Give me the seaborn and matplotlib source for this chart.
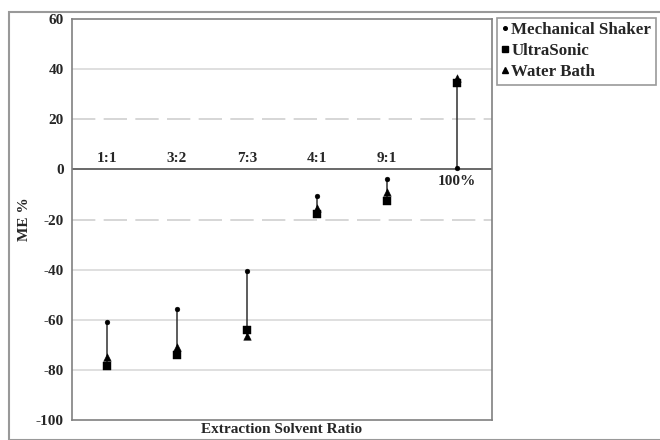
import numpy as np
import pandas as pd
import seaborn as sns
import matplotlib.pyplot as plt
from matplotlib.lines import Line2D
from matplotlib.patches import Rectangle

# data
ratios = ["1:1", "3:2", "7:3", "4:1", "9:1", "100%"]
mech_shaker = [-61.0, -55.6, -40.5, -10.7, -3.7, 0.6]
ultrasonic = [-78.5, -74.0, -64.1, -17.7, -12.7, 34.6]
water_bath = [-75.0, -71.0, -66.4, -15.4, -9.1, 36.3]
series_names = ["Mechanical Shaker", "UltraSonic", "Water Bath"]
y_ticks = [-100, -80, -60, -40, -20, 0, 20, 40, 60]

df = pd.DataFrame({
    "ratio": ratios * 3,
    "me": mech_shaker + ultrasonic + water_bath,
    "method": [s for s in series_names for _ in ratios],
})

sns.set_theme(style="white")
plt.rcParams["font.family"] = ["Liberation Serif", "DejaVu Serif"]
plt.rcParams["font.weight"] = "bold"

fig = plt.figure(figsize=(6.6, 4.4), dpi=100)
ax = fig.add_axes([72 / 660, 1 - 420 / 440, 420 / 660, 401 / 440])

# horizontal grid: solid light lines, dashed at +-20, dark zero line
for v in y_ticks[1:-1]:
    if v == 0:
        ax.axhline(v, color="#404040", lw=1.1, zorder=2)
    elif abs(v) == 20:
        ax.axhline(v, color="#d0d0d0", lw=1.2, dashes=(14, 5), zorder=1)
    else:
        ax.axhline(v, color="#d9d9d9", lw=1.2, zorder=1)

# high-low lines per category
pos = np.arange(len(ratios))
hi = np.max([mech_shaker, ultrasonic, water_bath], axis=0)
lo = np.min([mech_shaker, ultrasonic, water_bath], axis=0)
ax.vlines(pos, lo, hi, color="#303030", lw=1.1, zorder=3)

markers = {"Mechanical Shaker": "o", "UltraSonic": "s", "Water Bath": "^"}
sizes = {"Mechanical Shaker": 12, "UltraSonic": 34, "Water Bath": 30}
for name in series_names:
    sub = df[df["method"] == name]
    sns.scatterplot(data=sub, x="ratio", y="me", marker=markers[name],
                    s=sizes[name], color="black", edgecolor="black",
                    linewidth=0.3, ax=ax, zorder=4, legend=False)

ax.set_ylim(-100, 60)
ax.set_xlim(-0.5, len(ratios) - 0.5)
ax.set_yticks(y_ticks)
ax.set_yticklabels([str(v) for v in y_ticks], fontsize=11, fontweight="bold")
ax.set_xticks([])
ax.tick_params(axis="y", length=0, pad=6)
ax.set_xlabel("Extraction Solvent Ratio", fontsize=11, fontweight="bold", labelpad=2)
ax.set_ylabel("ME %", fontsize=11, fontweight="bold", labelpad=3)

# category labels sit next to the zero axis
for i, lab in enumerate(ratios):
    if lab == "100%":
        ax.annotate(lab, (i, 0), xytext=(0, -4), textcoords="offset points",
                    ha="center", va="top", fontsize=11, fontweight="bold")
    else:
        ax.annotate(lab, (i, 0), xytext=(0, 3), textcoords="offset points",
                    ha="center", va="bottom", fontsize=11, fontweight="bold")

for sp in ax.spines.values():
    sp.set_color("#808080")
    sp.set_linewidth(1.2)

handles = [Line2D([], [], marker=markers[n], color="black", linestyle="none",
                  markersize=np.sqrt(sizes[n]) * 0.75) for n in series_names]
leg = fig.legend(handles, series_names, loc="upper left",
                 bbox_to_anchor=(497 / 660, 1 - 18 / 440), frameon=True,
                 fancybox=False, fontsize=12.2, handlelength=0.4,
                 handletextpad=0.2, borderpad=0.25, labelspacing=0.3,
                 borderaxespad=0)
leg.get_frame().set_edgecolor("#808080")
leg.get_frame().set_linewidth(1.2)
for t in leg.get_texts():
    t.set_fontweight("bold")

# outer chart frame
fig.add_artist(Rectangle((9 / 660, 0), 1, 1 - 12 / 440, transform=fig.transFigure,
                         fill=False, edgecolor="#999999", lw=1.5))

fig.savefig("out.png", dpi=100)
